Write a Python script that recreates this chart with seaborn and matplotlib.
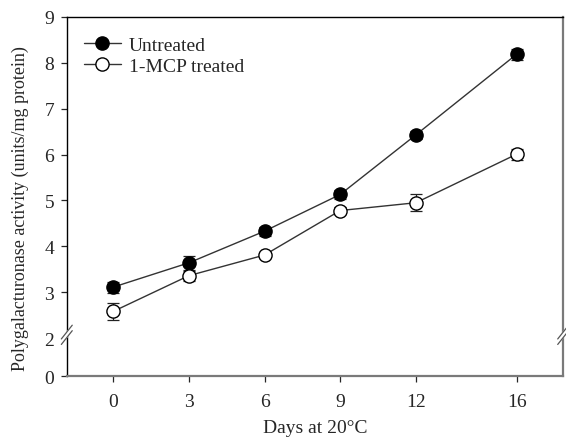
import matplotlib
matplotlib.use('Agg')
import matplotlib.pyplot as plt
import matplotlib.transforms as mtransforms
import seaborn as sns
import pandas as pd

# Data
days = [0, 3, 6, 9, 12, 16]
untreated = [3.11, 3.64, 4.33, 5.13, 6.43, 8.19]
untreated_err = [0.12, 0.15, 0.10, 0.09, 0.08, 0.12]
mcp = [2.58, 3.36, 3.81, 4.78, 4.95, 6.01]
mcp_err = [0.18, 0.11, 0.05, 0.08, 0.18, 0.12]
y_ticks = [2, 3, 4, 5, 6, 7, 8, 9]
x_ticks = days

sns.set_style("ticks")
plt.rcParams['font.family'] = ['Liberation Serif', 'DejaVu Serif']

fig = plt.figure(figsize=(5.66, 4.39), dpi=100)
ax = fig.add_axes([0.118, 0.141, 0.877, 0.818])

series = [("Untreated", untreated, untreated_err, "black"),
          ("1-MCP treated", mcp, mcp_err, "white")]
for name, vals, errs, fc in series:
    ax.errorbar(days, vals, yerr=errs, fmt='none', ecolor='#222222',
                elinewidth=0.9, capsize=4, capthick=0.9, zorder=2)
    df = pd.DataFrame({"day": days, "activity": vals})
    sns.lineplot(data=df, x="day", y="activity", color="#333333", linewidth=1.0,
                 marker="o", markersize=9.5, markerfacecolor=fc, markeredgecolor="black",
                 markeredgewidth=1.0, label=name, ax=ax, zorder=3)

# broken axis: 0 tick placed just below the break at 2
y_zero_pos = 1.17
ax.set_ylim(y_zero_pos, 9)
ax.set_yticks([y_zero_pos] + y_ticks)
ax.set_yticklabels(["0"] + [str(t) for t in y_ticks])
ax.set_xlim(-1.84, 17.84)
ax.set_xticks(x_ticks)
ax.set_xticklabels([str(d) for d in x_ticks])

ax.tick_params(axis='both', labelsize=14, length=4, width=0.9, direction='out')
ax.tick_params(axis='x', pad=8)
ax.tick_params(axis='y', pad=5)

for side in ["left", "top"]:
    ax.spines[side].set_color("black")
    ax.spines[side].set_linewidth(1.0)
for side in ["right", "bottom"]:
    ax.spines[side].set_color("#7a7a7a")
    ax.spines[side].set_linewidth(1.6)

ax.set_xlabel("Days at 20°C", fontsize=14, labelpad=7)
ax.set_ylabel("Polygalacturonase activity (units/mg protein)", fontsize=13)
ax.yaxis.set_label_coords(-0.077, 0.47)

# break marks on both vertical spines at y = 2
trans = mtransforms.blended_transform_factory(ax.transAxes, ax.transData)
for xs in [0, 1]:
    ax.plot([xs - 0.008, xs + 0.008], [1.97, 2.17], transform=trans, color='white',
            lw=3.5, clip_on=False, zorder=5)
    for off in [0.0, 0.12]:
        ax.plot([xs - 0.011, xs + 0.011], [1.86 + off, 2.16 + off], transform=trans,
                color='#555555', lw=0.9, clip_on=False, zorder=6)

leg = ax.legend(loc="upper left", bbox_to_anchor=(0.007, 0.985), frameon=False,
                fontsize=14, handlelength=1.9, labelspacing=0.2, borderaxespad=0.3,
                handletextpad=0.4)

fig.savefig("out.png", dpi=100)
